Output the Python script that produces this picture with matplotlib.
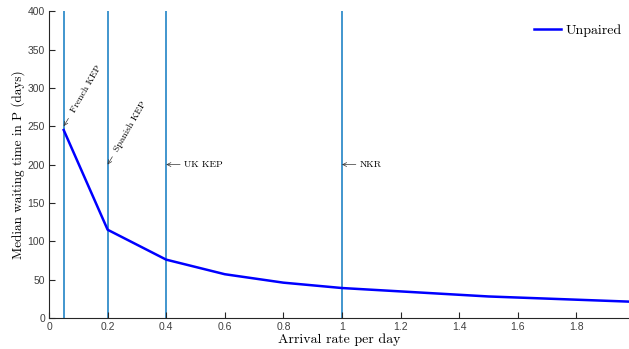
import numpy as np
import matplotlib.pyplot as plt

arrival_rate = [0.05, 0.2, 0.4, 0.6, 0.8, 1.0, 1.5, 2.0]
median_wait = [245, 115, 76, 57, 46, 39, 28, 21]

kep_names = ['French KEP', 'Spanish KEP', 'UK KEP', 'NKR']
kep_rates = [0.05, 0.2, 0.4, 1.0]
kep_arrow_y = [250, 200, 200, 200]
kep_rotation = [60, 60, 0, 0]

serif = 'cmr10'
sans = ['Liberation Sans', 'DejaVu Sans']

fig = plt.figure(figsize=(6.29, 3.49), dpi=100)
ax = fig.add_axes([0.078, 0.089, 0.922, 0.879])

for x in kep_rates:
    ax.axvline(x, color='#0072BD', lw=1.3, alpha=0.8, zorder=1)

ax.plot(arrival_rate, median_wait, color='#0000FF', lw=1.8, label='Unpaired', zorder=3)

for name, x, y, rot in zip(kep_names, kep_rates, kep_arrow_y, kep_rotation):
    if rot:
        off = (6.5, 10)
    else:
        off = (13, 0)
    ax.annotate(name, xy=(x, y), xytext=off, textcoords='offset points',
                rotation=rot, rotation_mode='anchor', ha='left', va='center',
                fontsize=7, family=serif,
                arrowprops=dict(arrowstyle='->', color='#333333', lw=0.5,
                                shrinkA=1, shrinkB=0))

ax.set_xlim(0, 1.98)
ax.set_ylim(0, 400)
ax.set_xticks(np.arange(0, 1.81, 0.2))
ax.set_xticklabels(['0', '0.2', '0.4', '0.6', '0.8', '1', '1.2', '1.4', '1.6', '1.8'])
ax.set_yticks(np.arange(0, 401, 50))
ax.tick_params(direction='in', length=4, width=0.8, labelsize=7.5, colors='#262626', pad=3)
ax.tick_params(labelcolor='#404040')
for lab in ax.get_xticklabels() + ax.get_yticklabels():
    lab.set_family(sans)
for s in ['top', 'right']:
    ax.spines[s].set_visible(False)
for s in ['left', 'bottom']:
    ax.spines[s].set_color('#262626')
    ax.spines[s].set_linewidth(0.8)

ax.set_xlabel('Arrival rate per day', family=serif, fontsize=10, labelpad=1)
ax.set_ylabel('Median waiting time in P (days)', family=serif, fontsize=9.5, labelpad=2)

leg = ax.legend(loc='upper right', frameon=False, prop={'family': serif, 'size': 10},
                handlelength=2.0, handletextpad=0.3, borderaxespad=0,
                bbox_to_anchor=(0.997, 0.975))

fig.savefig('out.png', dpi=100)
